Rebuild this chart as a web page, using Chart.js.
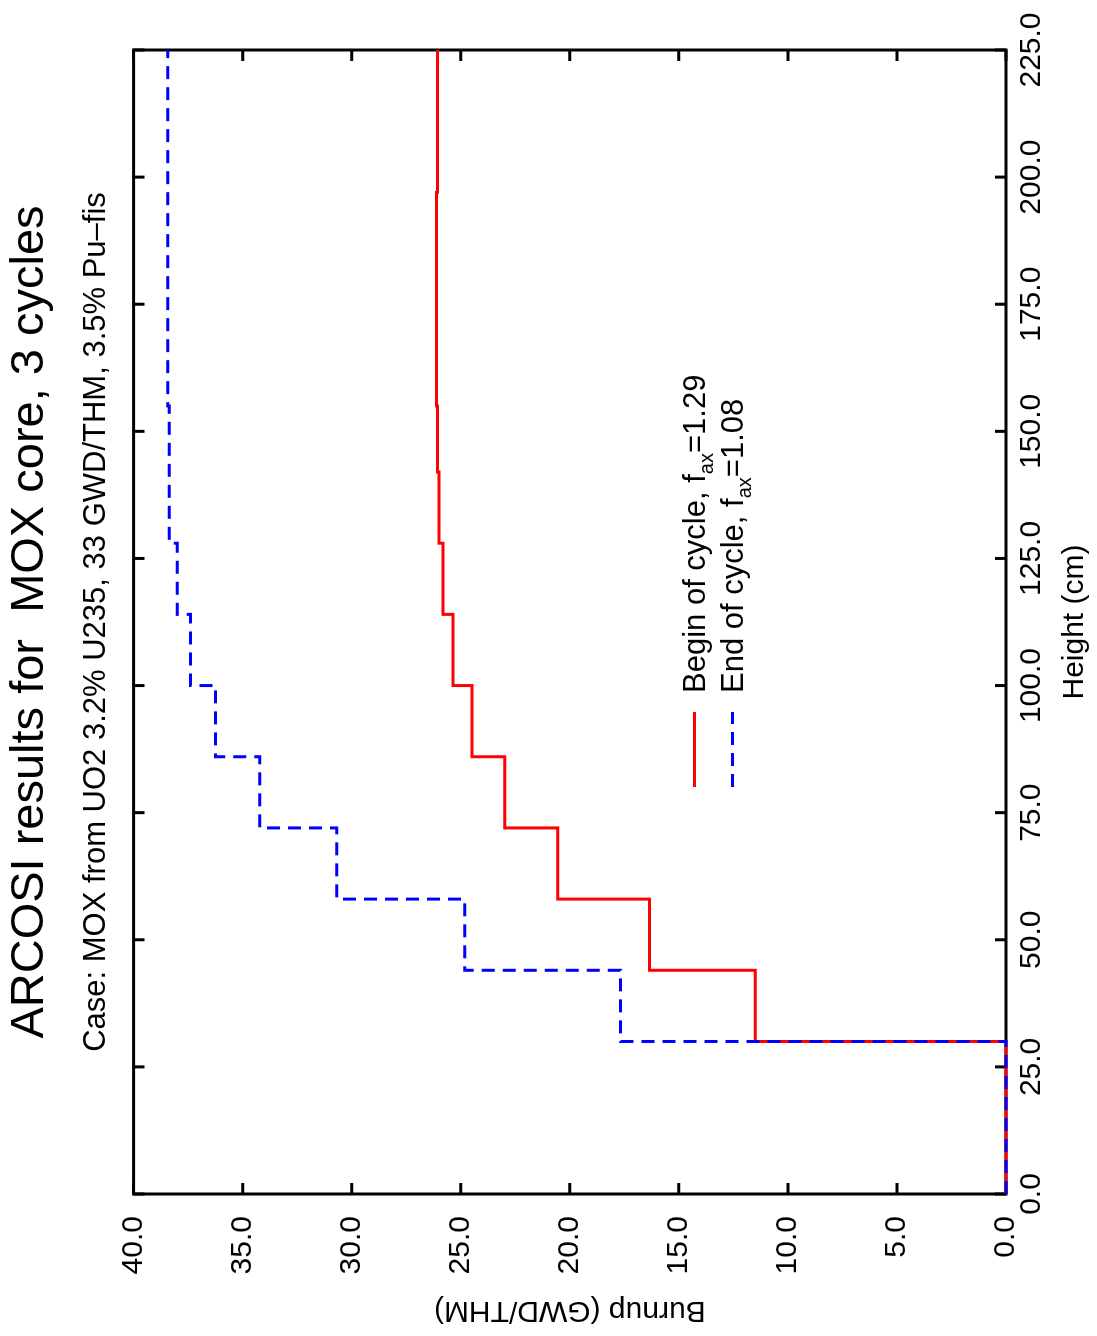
<!DOCTYPE html>
<html>
<head>
<meta charset="utf-8">
<title>ARCOSI burnup profile</title>
<script src="https://cdn.jsdelivr.net/npm/chart.js@4.4.1/dist/chart.umd.min.js"></script>
<style>
  html, body { margin: 0; padding: 0; background: #fff; }
  body { width: 1097px; height: 1336px; overflow: hidden; position: relative; }
  /* chart is drawn landscape, then turned a quarter left */
  #wrap {
    position: absolute; left: 0; top: 0;
    width: 1336px; height: 1097px;
    transform-origin: 0 0;
    transform: translateY(1336px) rotate(-90deg);
  }
</style>
</head>
<body>
<div id="wrap"><canvas id="chart" width="1336" height="1097"></canvas></div>
<script>
// step edges along the height (cm) and burnup of each step (GWD/THM)
const heights = [0, 30, 44, 58, 72, 86, 100, 114, 128, 142, 155, 169, 183, 197, 211, 225];
const burnupBegin = [0, 11.5, 16.35, 20.55, 22.98, 24.48, 25.35, 25.81, 26.0, 26.07, 26.11, 26.11, 26.11, 26.07, 26.07, 26.07];
const burnupEnd = [0, 17.67, 24.82, 30.69, 34.22, 36.24, 37.39, 38.0, 38.37, 38.37, 38.43, 38.43, 38.43, 38.43, 38.43, 38.43];

const heightTicks = [0, 25, 50, 75, 100, 125, 150, 175, 200, 225];
const burnupTicks = [0, 5, 10, 15, 20, 25, 30, 35, 40];

const seriesNames = ['Begin of cycle, f', 'End of cycle, f'];
const faxValues = ['=1.29', '=1.08'];

const FONT = '"Liberation Sans", Arial, Helvetica, sans-serif';
Chart.defaults.font.family = FONT;
Chart.defaults.color = '#000';

// box round the plot with inward ticks on all four sides
const frame = {
    id: 'frame',
    beforeDatasetsDraw(chart) {
        const { ctx, chartArea: a, scales: { x, y } } = chart;
        const len = 11;
        ctx.save();
        ctx.strokeStyle = '#000';
        ctx.lineWidth = 3;
        ctx.strokeRect(a.left, a.top, a.right - a.left, a.bottom - a.top);
        ctx.beginPath();
        x.ticks.forEach(t => {
            const px = x.getPixelForValue(t.value);
            ctx.moveTo(px, a.bottom); ctx.lineTo(px, a.bottom - len);
            ctx.moveTo(px, a.top); ctx.lineTo(px, a.top + len);
        });
        y.ticks.forEach(t => {
            const py = y.getPixelForValue(t.value);
            ctx.moveTo(a.left, py); ctx.lineTo(a.left + len, py);
            ctx.moveTo(a.right, py); ctx.lineTo(a.right - len, py);
        });
        ctx.stroke();
        ctx.restore();
    }
};

// legend with the f_ax subscript
const legendBox = {
    id: 'legendBox',
    afterDatasetsDraw(chart) {
        const { ctx, chartArea: a } = chart;
        const x0 = a.left + 407, x1 = a.left + 482, tx = a.left + 501;
        chart.data.datasets.forEach((ds, i) => {
            const ly = a.top + 561 + i * 38;
            ctx.save();
            ctx.strokeStyle = ds.borderColor;
            ctx.lineWidth = 3;
            ctx.setLineDash(ds.borderDash || []);
            ctx.beginPath();
            ctx.moveTo(x0, ly);
            ctx.lineTo(x1, ly);
            ctx.stroke();
            ctx.setLineDash([]);

            const base = ly + 10;
            ctx.fillStyle = '#000';
            ctx.textBaseline = 'alphabetic';
            ctx.textAlign = 'left';
            ctx.font = '31px ' + FONT;
            ctx.fillText(seriesNames[i], tx, base);
            let w = ctx.measureText(seriesNames[i]).width;
            ctx.font = '20px ' + FONT;
            ctx.fillText('ax', tx + w, base + 8);
            w += ctx.measureText('ax').width;
            ctx.font = '31px ' + FONT;
            ctx.fillText(faxValues[i], tx + w, base);
            ctx.restore();
        });
    }
};

const toPoints = vals => heights.map((h, i) => ({ x: h, y: vals[i] }));

new Chart(document.getElementById('chart'), {
    type: 'line',
    data: {
        datasets: [
            {
                label: 'Begin of cycle',
                data: toPoints(burnupBegin),
                borderColor: '#ff0000',
                borderWidth: 3,
                stepped: true,
                pointRadius: 0,
                fill: false,
                clip: 4,
                order: 1
            },
            {
                label: 'End of cycle',
                data: toPoints(burnupEnd),
                borderColor: '#0000ff',
                borderWidth: 3,
                borderDash: [13, 8],
                stepped: true,
                pointRadius: 0,
                fill: false,
                clip: 4,
                order: 0
            }
        ]
    },
    options: {
        responsive: false,
        animation: false,
        layout: { padding: { left: 8, right: 50, top: 0, bottom: 4 } },
        plugins: {
            legend: { display: false },
            tooltip: { enabled: false },
            title: {
                display: true,
                fullSize: false,
                text: 'ARCOSI results for  MOX core, 3 cycles',
                font: { size: 47, weight: 'normal' },
                color: '#000',
                padding: { top: 2, bottom: 19 }
            },
            subtitle: {
                display: true,
                fullSize: false,
                text: 'Case: MOX from UO2 3.2% U235, 33 GWD/THM, 3.5% Pu\u2013fis',
                font: { size: 31, weight: 'normal' },
                color: '#000',
                padding: { top: 0, bottom: 19 }
            }
        },
        scales: {
            x: {
                type: 'linear',
                position: 'bottom',
                min: 0,
                max: 225,
                afterBuildTicks: s => { s.ticks = heightTicks.map(v => ({ value: v })); },
                afterFit: s => { s.height = 87; },
                ticks: {
                    callback: v => v.toFixed(1),
                    font: { size: 30 },
                    color: '#000',
                    padding: 8,
                    maxRotation: 0,
                    autoSkip: false
                },
                grid: { display: false, drawTicks: false },
                border: { display: false },
                title: {
                    display: true,
                    text: 'Height (cm)',
                    font: { size: 30 },
                    color: '#000',
                    padding: 0
                }
            },
            y: {
                type: 'linear',
                min: 0,
                max: 40,
                afterBuildTicks: s => { s.ticks = burnupTicks.map(v => ({ value: v })); },
                afterFit: s => { s.width = 134; },
                ticks: {
                    callback: v => v.toFixed(1),
                    font: { size: 30 },
                    color: '#000',
                    padding: 22
                },
                grid: { display: false, drawTicks: false },
                border: { display: false },
                title: {
                    display: true,
                    text: 'Burnup (GWD/THM)',
                    font: { size: 30 },
                    color: '#000',
                    padding: 0
                }
            }
        }
    },
    plugins: [frame, legendBox]
});
</script>
</body>
</html>
